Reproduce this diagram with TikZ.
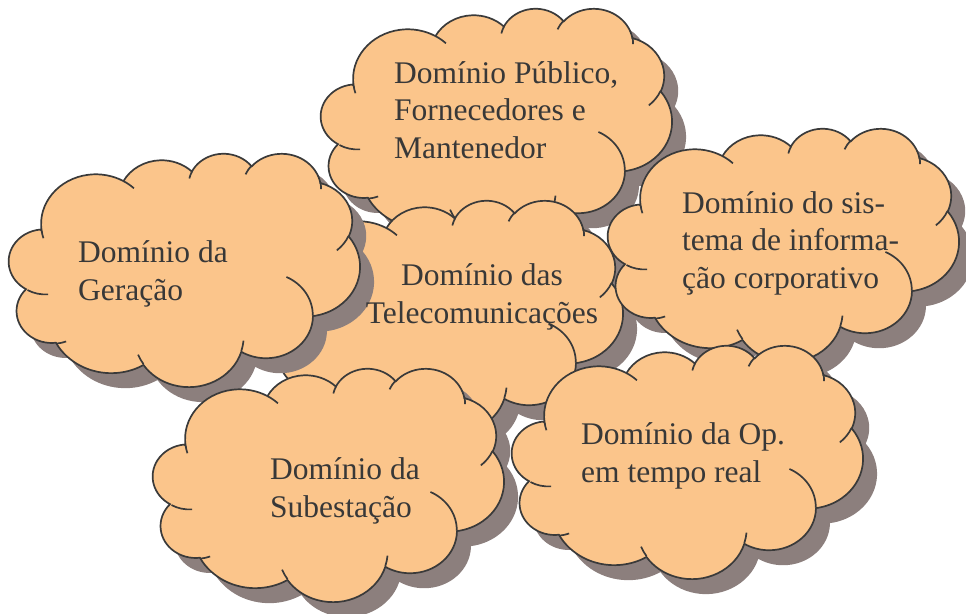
\documentclass[tikz,border=0pt]{standalone}
\usepackage{fontspec}
\setmainfont{Liberation Serif}
\definecolor{cloudfill}{HTML}{FBC58B}
\definecolor{cloudline}{HTML}{3A3A3A}
\definecolor{cloudshadow}{HTML}{8C7F7D}
\definecolor{cloudtext}{HTML}{383838}
\tikzset{
  line cap=round,
  line join=round,
  cloudbody/.style={fill=cloudfill, draw=cloudline, line width=1.7pt},
  cloudshade/.style={fill=cloudshadow},
  cloudbumps/.style={draw=cloudline, line width=1.7pt},
  domaintext/.style={text=cloudtext, font=\fontsize{31.5}{37.5}\selectfont, align=left, inner sep=0pt}
}
% elliptic arc: x radius, y radius, start angle, sweep (angles measured as seen from the centre)
\newcommand{\cloudarc}[4]{arc[x radius=#1, y radius=#2,
  start angle={atan2(#1*sin(#3),#2*cos(#3))},
  delta angle={#4+mod(atan2(#1*sin(#3+#4),#2*cos(#3+#4))-atan2(#1*sin(#3),#2*cos(#3))-#4+540,360)-180}]}
% cloud outline in a 43.2 x 43.2 box, y pointing down
\newcommand{\cloudoutline}{(3.9,14.37)
  \cloudarc{6.753}{9.19}{-190.487}{123.781}
  \cloudarc{5.333}{7.267}{-144.102}{89.945}
  \cloudarc{4.365}{5.945}{-145.808}{99.723}
  \cloudarc{4.857}{6.595}{-130.986}{117.242}
  \cloudarc{5.333}{7.273}{-78.709}{109.027}
  \cloudarc{6.775}{9.22}{-46.267}{130.269}
  \cloudarc{5.785}{7.867}{0.625}{114.033}
  \cloudarc{6.752}{9.215}{22.452}{115.173}
  \cloudarc{7.72}{10.543}{66.243}{78.037}
  \cloudarc{4.36}{5.918}{-274.942}{146.736}
  \cloudarc{4.345}{5.945}{-246.829}{152.519} -- cycle}
\newcommand{\cloudinner}{
  (4.693,26.177) \cloudarc{4.345}{5.945}{86.742}{26.430}
  (6.928,34.899) \cloudarc{4.36}{5.918}{73.610}{11.447}
  (16.478,39.09) \cloudarc{6.752}{9.215}{137.624}{14.081}
  (28.827,34.751) \cloudarc{6.752}{9.215}{6.453}{15.998}
  (34.129,22.954) \cloudarc{5.785}{7.867}{-70.292}{70.917}
  (41.798,15.354) \cloudarc{5.333}{7.273}{30.318}{27.752}
  (38.324,5.426) \cloudarc{4.857}{6.595}{-13.744}{14.859}
  (29.078,3.952) \cloudarc{4.857}{6.595}{-149.181}{18.195}
  (22.141,4.72) \cloudarc{4.365}{5.945}{-163.494}{17.686}
  (14.0,5.192) \cloudarc{6.753}{9.19}{-66.707}{12.319}
  (4.127,15.789) \cloudarc{6.753}{9.19}{157.654}{11.858}}
% cloud with its shadow, top left corner at (#1,#2)
\newcommand{\domaincloud}[2]{
  \begin{scope}[shift={(#1+14,#2+15)}, x=8.1pt, y=-5.4pt]
    \fill[cloudshade] \cloudoutline;
  \end{scope}
  \begin{scope}[shift={(#1,#2)}, x=8.1pt, y=-5.4pt]
    \draw[cloudbody] \cloudoutline;
    \draw[cloudbumps] \cloudinner;
  \end{scope}}

\begin{document}
\begin{tikzpicture}[x=1pt,y=-1pt]
  \useasboundingbox (0,0) rectangle (966,613);

  \domaincloud{322}{8}
  \domaincloud{273}{200}
  \domaincloud{10}{153}
  \domaincloud{609}{128}
  \domaincloud{154}{368}
  \domaincloud{513}{345}

  % anchor base = baseline of the last line
  \node[domaintext, anchor=base west] (publico) at (394,158) {Domínio Público,\\Fornecedores e\\Mantenedor};
  \node[domaintext, anchor=base, align=center] (telecom) at (482,323) {Domínio das\\Telecomunicações};
  \node[domaintext, anchor=base west] (geracao) at (78,300) {Domínio da\\Geração};
  \node[domaintext, anchor=base west] (sistema) at (682,288) {Domínio do sis-\\tema de informa-\\ção corporativo};
  \node[domaintext, anchor=base west] (subestacao) at (270,517) {Domínio da\\Subestação};
  \node[domaintext, anchor=base west] (operacao) at (581,482) {Domínio da Op.\\em tempo real};
\end{tikzpicture}
\end{document}
